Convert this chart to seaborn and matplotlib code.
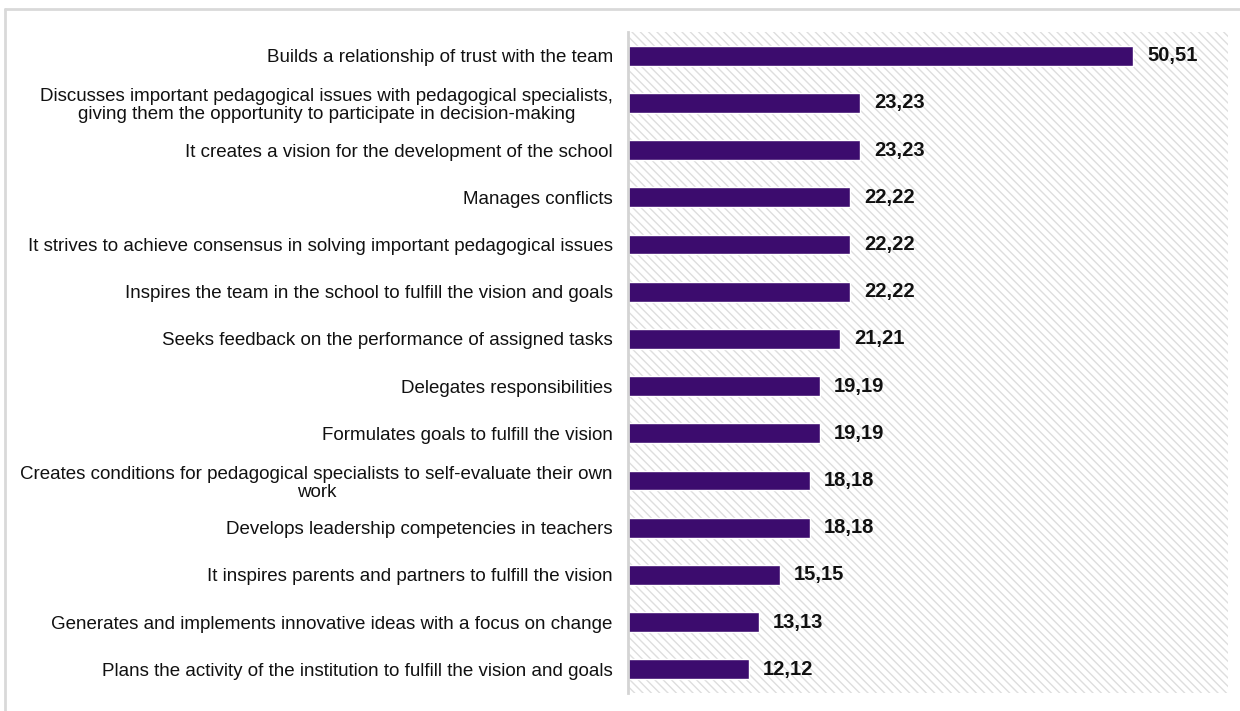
import seaborn as sns
import matplotlib.pyplot as plt
import pandas as pd
from matplotlib.patches import Rectangle
from matplotlib.lines import Line2D

# categories, top to bottom
categories = [
    "Builds a relationship of trust with the team",
    "Discusses important pedagogical issues with pedagogical specialists,\ngiving them the opportunity to participate in decision-making",
    "It creates a vision for the development of the school",
    "Manages conflicts",
    "It strives to achieve consensus in solving important pedagogical issues",
    "Inspires the team in the school to fulfill the vision and goals",
    "Seeks feedback on the performance of assigned tasks",
    "Delegates responsibilities",
    "Formulates goals to fulfill the vision",
    "Creates conditions for pedagogical specialists to self-evaluate their own\nwork",
    "Develops leadership competencies in teachers",
    "It inspires parents and partners to fulfill the vision",
    "Generates and implements innovative ideas with a focus on change",
    "Plans the activity of the institution to fulfill the vision and goals",
]
values = [50.51, 23.23, 23.23, 22.22, 22.22, 22.22, 21.21, 19.19, 19.19,
          18.18, 18.18, 15.15, 13.13, 12.12]

df = pd.DataFrame({"category": categories, "value": values})

sns.set_style("white")
plt.rcParams["font.family"] = ["Liberation Sans", "DejaVu Sans"]
plt.rcParams["hatch.linewidth"] = 1.0

fig = plt.figure(figsize=(12.4, 7.11), dpi=100)
ax = fig.add_axes([0.5065, 0.0253, 0.4838, 0.9297])

# light diagonal hatch behind the bars
ax.add_patch(Rectangle((0, 0), 1, 1, transform=ax.transAxes, fill=False,
                       hatch="\\\\\\\\", edgecolor="#dedede", linewidth=0,
                       zorder=0))

sns.barplot(data=df, x="value", y="category", orient="h", color="#3c0c6e",
            width=0.42, saturation=1, ax=ax, zorder=2)

labels = [f"{v:.2f}".replace(".", ",") for v in values]
ax.bar_label(ax.containers[0], labels=labels, padding=10,
             fontsize=14.5, fontweight="bold", color="#111111")

ax.set_xlim(0, 60)
ax.set_xlabel("")
ax.set_ylabel("")
ax.set_xticks([])
ax.tick_params(axis="y", length=0, pad=11, labelsize=13.5)
for lbl in ax.get_yticklabels():
    lbl.set_multialignment("center")
    lbl.set_linespacing(1.1)
    lbl.set_color("#111111")

for s in ["top", "right", "bottom"]:
    ax.spines[s].set_visible(False)
ax.spines["left"].set_color("#d4d4d4")
ax.spines["left"].set_linewidth(2)

# outer chart border (top and left visible)
fig.add_artist(Line2D([5 / 1240, 1.0], [1 - 9 / 711, 1 - 9 / 711],
                      transform=fig.transFigure, color="#d9d9d9", linewidth=2))
fig.add_artist(Line2D([5 / 1240, 5 / 1240], [0, 1 - 9 / 711],
                      transform=fig.transFigure, color="#d9d9d9", linewidth=2))

fig.savefig("out.png", dpi=100)
